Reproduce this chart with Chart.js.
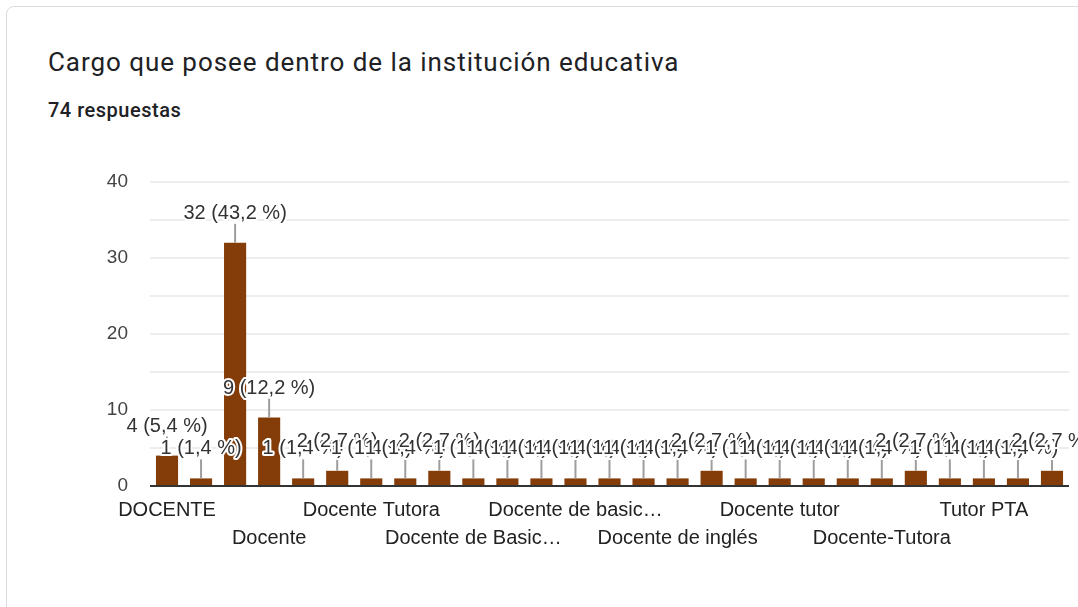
<!DOCTYPE html>
<html lang="es">
<head>
<meta charset="utf-8">
<script src="https://cdn.jsdelivr.net/npm/chart.js@4"></script>
<style>
  html, body { margin: 0; padding: 0; background: #fff; }
  body { width: 1078px; height: 607px; position: relative; overflow: hidden; }
  .card {
    position: absolute; left: 6px; top: 6px; width: 1100px; height: 620px;
    border: 1px solid #dadce0; border-radius: 8px; box-sizing: border-box;
  }
  .titulo {
    position: absolute; left: 48px; top: 47px; margin: 0; line-height: normal;
    font: 400 26px Roboto, sans-serif; letter-spacing: 0.95px;
    color: #202124; white-space: nowrap;
  }
  .respuestas {
    position: absolute; left: 48px; top: 98px; line-height: normal;
    font: 500 20px Roboto, sans-serif; letter-spacing: 0.5px; color: #202124;
  }
  #grafico { position: absolute; left: 0; top: 0; }
</style>
</head>
<body>
<div class="card"></div>
<h1 class="titulo">Cargo que posee dentro de la institución educativa</h1>
<div class="respuestas">74 respuestas</div>
<canvas id="grafico" width="1078" height="607"></canvas>
<script>
const categorias = [
  'DOCENTE', 'DOCENTE TUTORA', 'Docente ', 'Docente', 'Docente  Tutora',
  'Docente Tutor', 'Docente Tutora', 'Docente Tutora PTA', 'Docente de Aula',
  'Docente de Basica Primaria', 'Docente de Basica primaria', 'Docente de Primaria',
  'Docente de basica primaria', 'Docente de grado', 'Docente de ingles',
  'Docente de inglés', 'Docente de primaria', 'Docente primaria', 'Docente tutor',
  'Docente tutora', 'Docente tutora PTA', 'Docente-Tutora', 'Docente-tutora',
  'Docentes', 'Tutor PTA', 'Tutora', 'Tutora PTA'
];
const respuestas = [4, 1, 32, 9, 1, 2, 1, 1, 2, 1, 1, 1, 1, 1, 1, 1, 2, 1, 1, 1, 1, 1, 2, 1, 1, 1, 2];
const marcasY = [0, 10, 20, 30, 40];

const total = respuestas.reduce((a, b) => a + b, 0);
const fuente = '"Liberation Sans", Arial, sans-serif';

function recortar(txt) {
  return txt.length > 17 ? txt.slice(0, 16) + '…' : txt;
}

// etiqueta "n (x,y %)" con línea guía sobre cada barra
const etiquetas = {
  id: 'etiquetas',
  afterDatasetsDraw(chart) {
    const ctx = chart.ctx;
    const meta = chart.getDatasetMeta(0);
    ctx.save();
    ctx.strokeStyle = '#9e9e9e';
    ctx.lineWidth = 2;
    meta.data.forEach(bar => {
      ctx.beginPath();
      ctx.moveTo(bar.x, bar.y);
      ctx.lineTo(bar.x, bar.y - 19);
      ctx.stroke();
    });
    ctx.font = '20px ' + fuente;
    ctx.textAlign = 'center';
    ctx.textBaseline = 'middle';
    ctx.lineJoin = 'round';
    meta.data.forEach((bar, i) => {
      const v = respuestas[i];
      const pct = (v / total * 100).toFixed(1).replace('.', ',');
      const txt = v + ' (' + pct + ' %)';
      const y = bar.y - 29.5;
      ctx.strokeStyle = '#fff';
      ctx.lineWidth = 4;
      ctx.strokeText(txt, bar.x, y);
      ctx.fillStyle = '#333';
      ctx.fillText(txt, bar.x, y);
    });
    ctx.restore();
  }
};

new Chart(document.getElementById('grafico'), {
  type: 'bar',
  data: {
    labels: categorias,
    datasets: [{
      data: respuestas,
      backgroundColor: '#843c08',
      barPercentage: 0.65,
      categoryPercentage: 1
    }]
  },
  options: {
    responsive: false,
    animation: false,
    layout: { padding: { top: 182, right: 9, bottom: 0, left: 0 } },
    plugins: { legend: { display: false }, tooltip: { enabled: false } },
    scales: {
      x: {
        grid: { display: false },
        border: { display: false },
        afterFit: s => { s.height = 121; },
        ticks: {
          autoSkip: false,
          maxRotation: 0,
          minRotation: 0,
          padding: 2,
          color: '#222',
          font: { family: fuente, size: 20, lineHeight: 1.4 },
          callback: (val, i) => {
            if (i % 3 !== 0) return '';
            const txt = recortar(categorias[i]);
            return i % 6 === 0 ? txt : ['', txt];
          }
        }
      },
      y: {
        min: 0,
        max: 40,
        afterFit: s => { s.width = 150; },
        border: { display: false },
        grid: {
          drawTicks: false,
          color: c => c.tick.value === 0 ? '#333' : '#ededed',
          lineWidth: 2
        },
        ticks: {
          stepSize: 5,
          padding: 22,
          color: '#444',
          font: { family: fuente, size: 19 },
          callback: v => marcasY.includes(v) ? v : ''
        }
      }
    }
  },
  plugins: [etiquetas]
});
</script>
</body>
</html>
